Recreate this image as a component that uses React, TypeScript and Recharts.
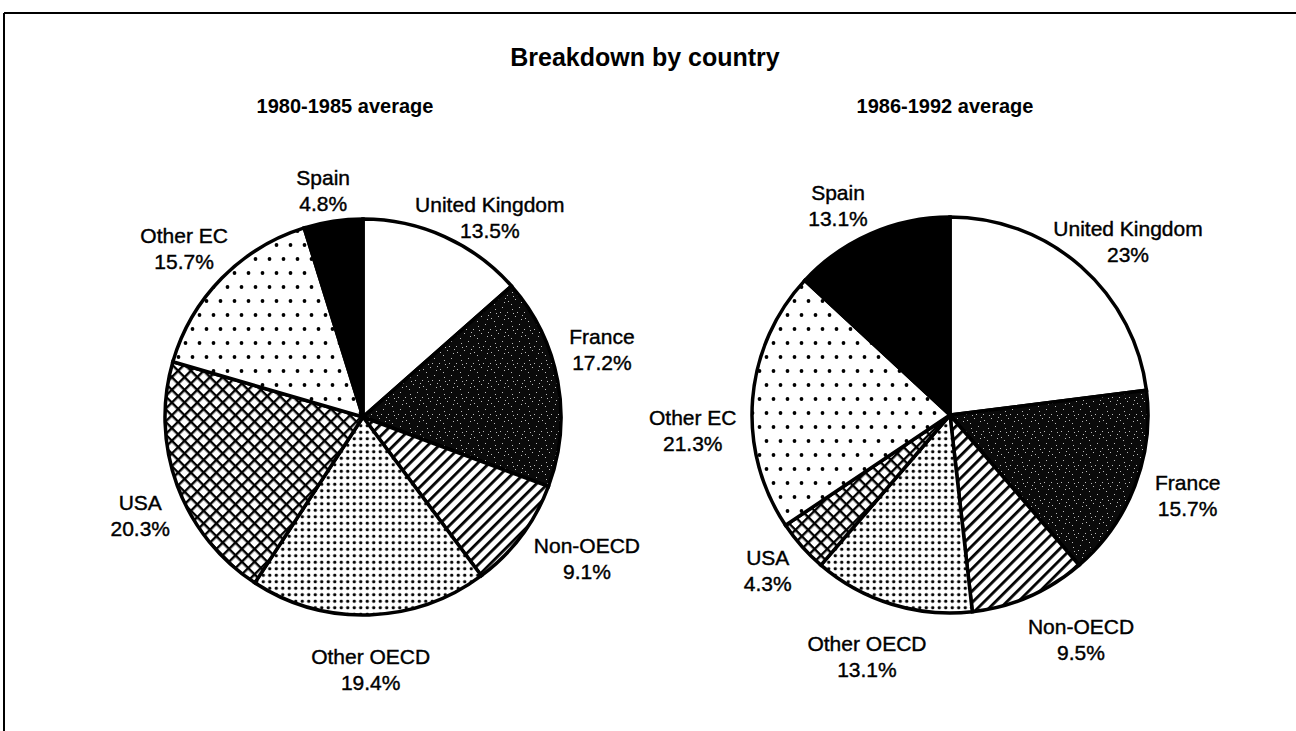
import React from 'react';
import { PieChart, Pie, Cell } from 'recharts';

const categories = ['United Kingdom', 'France', 'Non-OECD', 'Other OECD', 'USA', 'Other EC', 'Spain'];
const share1980to1985 = [13.5, 17.2, 9.1, 19.4, 20.3, 15.7, 4.8];
const share1986to1992 = [23, 15.7, 9.5, 13.1, 4.3, 21.3, 13.1];
const chartTitle = 'Breakdown by country';
const panelTitles = ['1980-1985 average', '1986-1992 average'];

// label nudges (dx, dy) relative to the radial label point, per slice
const labelShift1980 = [[26, 24], [-2, -23], [28, -6], [0, 8], [7, 13], [-4, 3], [-3, 16]];
const labelShift1986 = [[16, 10], [9, -8], [33, 0], [-11, 7], [1, -7], [-13, 35], [-14, 15]];

const data1 = categories.map((name, i) => ({ name, value: share1980to1985[i] }));
const data2 = categories.map((name, i) => ({ name, value: share1986to1992[i] }));

const fills = [
  '#ffffff',
  'url(#pFrance)',
  'url(#pNonOECD)',
  'url(#pOtherOECD)',
  'url(#pUSA)',
  'url(#pOtherEC)',
  '#000000',
];

const RAD = Math.PI / 180;
const FONT = '"Liberation Sans", Arial, Helvetica, sans-serif';

const makeLabel = (shifts: number[][]) => (props: any) => {
  const { cx, cy, midAngle, outerRadius, payload, value, index } = props;
  const r = outerRadius + 47;
  const s = shifts[index] || [0, 0];
  const x = cx + r * Math.cos(-midAngle * RAD) + s[0];
  const y = cy + r * Math.sin(-midAngle * RAD) + s[1];
  const name = payload && payload.name ? payload.name : props.name;
  return (
    <g>
      <text x={x} y={y - 13} textAnchor="middle" dominantBaseline="central" fontFamily={FONT} fontSize={21} fill="#000" stroke="#000" strokeWidth={0.4}>
        {name}
      </text>
      <text x={x} y={y + 13} textAnchor="middle" dominantBaseline="central" fontFamily={FONT} fontSize={21} fill="#000" stroke="#000" strokeWidth={0.4}>
        {`${value}%`}
      </text>
    </g>
  );
};

const label1980 = makeLabel(labelShift1980);
const label1986 = makeLabel(labelShift1986);

const speckles = [
  [2, 3], [9, 1], [14, 6], [5, 10], [11, 13], [1, 15], [7, 6], [15, 12], [3, 7], [12, 9],
];

export default function App() {
  return (
    <div style={{ position: 'absolute', left: 0, top: 0, width: 1296, height: 731, background: '#fff' }}>
      <PieChart width={1296} height={731} margin={{ top: 0, right: 0, bottom: 0, left: 0 }}>
        <defs>
          <pattern id="pFrance" width="17" height="17" patternUnits="userSpaceOnUse">
            <rect width="17" height="17" fill="#0a0a0a" />
            {speckles.map(([sx, sy], i) => (
              <rect key={i} x={sx} y={sy} width="1" height="1" fill="#bbb" />
            ))}
          </pattern>
          <pattern id="pNonOECD" width="8" height="8" patternUnits="userSpaceOnUse" patternTransform="rotate(-45)">
            <rect width="8" height="8" fill="#fff" />
            <rect width="8" height="2.8" fill="#000" />
          </pattern>
          <pattern id="pOtherOECD" width="6.5" height="6.5" patternUnits="userSpaceOnUse">
            <rect width="6.5" height="6.5" fill="#fff" />
            <circle cx="3.25" cy="3.25" r="1.7" fill="#000" />
          </pattern>
          <pattern id="pUSA" width="9" height="9" patternUnits="userSpaceOnUse" patternTransform="rotate(45)">
            <rect width="9" height="9" fill="#fff" />
            <rect width="9" height="2.4" fill="#000" />
            <rect width="2.4" height="9" fill="#000" />
          </pattern>
          <pattern id="pOtherEC" width="14" height="28" patternUnits="userSpaceOnUse">
            <rect width="14" height="28" fill="#fff" />
            <circle cx="3.5" cy="7" r="1.9" fill="#000" />
            <circle cx="10.5" cy="21" r="1.9" fill="#000" />
          </pattern>
        </defs>
        <line x1={4} y1={13} x2={1296} y2={13} stroke="#000" strokeWidth={2} />
        <line x1={4} y1={13} x2={4} y2={731} stroke="#000" strokeWidth={2} />
        <text x={645} y={57} textAnchor="middle" dominantBaseline="central" fontFamily={FONT} fontSize={25} fontWeight="bold" fill="#000">
          {chartTitle}
        </text>
        <text x={345} y={106} textAnchor="middle" dominantBaseline="central" fontFamily={FONT} fontSize={20} fontWeight="bold" fill="#000">
          {panelTitles[0]}
        </text>
        <text x={945} y={106} textAnchor="middle" dominantBaseline="central" fontFamily={FONT} fontSize={20} fontWeight="bold" fill="#000">
          {panelTitles[1]}
        </text>
        <Pie
          data={data1}
          dataKey="value"
          nameKey="name"
          cx={363}
          cy={417}
          outerRadius={198}
          startAngle={90}
          endAngle={-270}
          stroke="#000"
          strokeWidth={3.5}
          label={label1980}
          labelLine={false}
          isAnimationActive={false}
        >
          {data1.map((d, i) => (
            <Cell key={d.name} fill={fills[i]} />
          ))}
        </Pie>
        <Pie
          data={data2}
          dataKey="value"
          nameKey="name"
          cx={950}
          cy={415}
          outerRadius={198}
          startAngle={90}
          endAngle={-270}
          stroke="#000"
          strokeWidth={3.5}
          label={label1986}
          labelLine={false}
          isAnimationActive={false}
        >
          {data2.map((d, i) => (
            <Cell key={d.name} fill={fills[i]} />
          ))}
        </Pie>
      </PieChart>
    </div>
  );
}
